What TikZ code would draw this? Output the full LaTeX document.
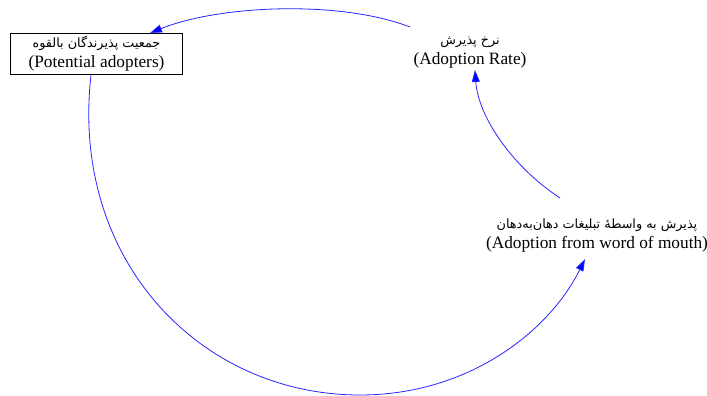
\documentclass[tikz,border=0pt]{standalone}
\usepackage{fontspec}
\setmainfont{Liberation Serif}
\newfontfamily\fafont[Script=Arabic]{DejaVu Sans}
\TeXXeTstate=1
\usetikzlibrary{arrows.meta}
\newcommand{\faline}[1]{{\fafont\fontsize{12.8}{20}\selectfont\beginR #1\endR}}
\begin{document}
\begin{tikzpicture}[x=1pt,y=-1pt,
  lbl/.style={align=center,inner sep=1pt,font=\fontsize{17.3}{20}\selectfont},
  stockbox/.style={lbl,draw=black,line width=0.8pt,minimum width=172pt,minimum height=41pt,inner sep=0pt},
  flow/.style={draw=blue!85!white,line width=0.8pt,-{Triangle[length=12pt,width=8pt,fill=blue]}}]
\useasboundingbox (0,0) rectangle (707,396);
\node[stockbox] (pa) at (96.5,54) {\faline{جمعیت پذیرندگان بالقوه}\\(Potential adopters)};
\node[lbl] (rate) at (470,52.5) {\faline{نرخ پذیرش}\\(Adoption Rate)};
\node[lbl] (wom) at (597,235) {\faline{پذیرش به واسطهٔ تبلیغات دهان‌به‌دهان}\\(Adoption from word of mouth)};
\coordinate (r1) at (410,27);
\coordinate (p1) at (150,33);
\coordinate (p2) at (91,75);
\coordinate (b) at (360,395);
\coordinate (w1) at (585,259);
\coordinate (w2) at (560,198);
\coordinate (r2) at (475,70);
\draw[flow] (r1) .. controls (340,0) and (220,5) .. (p1);
\draw[flow] (p2) .. controls (70,260) and (200,395) .. (b) .. controls (470,395) and (550,330) .. (w1);
\draw[flow] (w2) .. controls (510,165) and (478,115) .. (r2);
\end{tikzpicture}
\end{document}
